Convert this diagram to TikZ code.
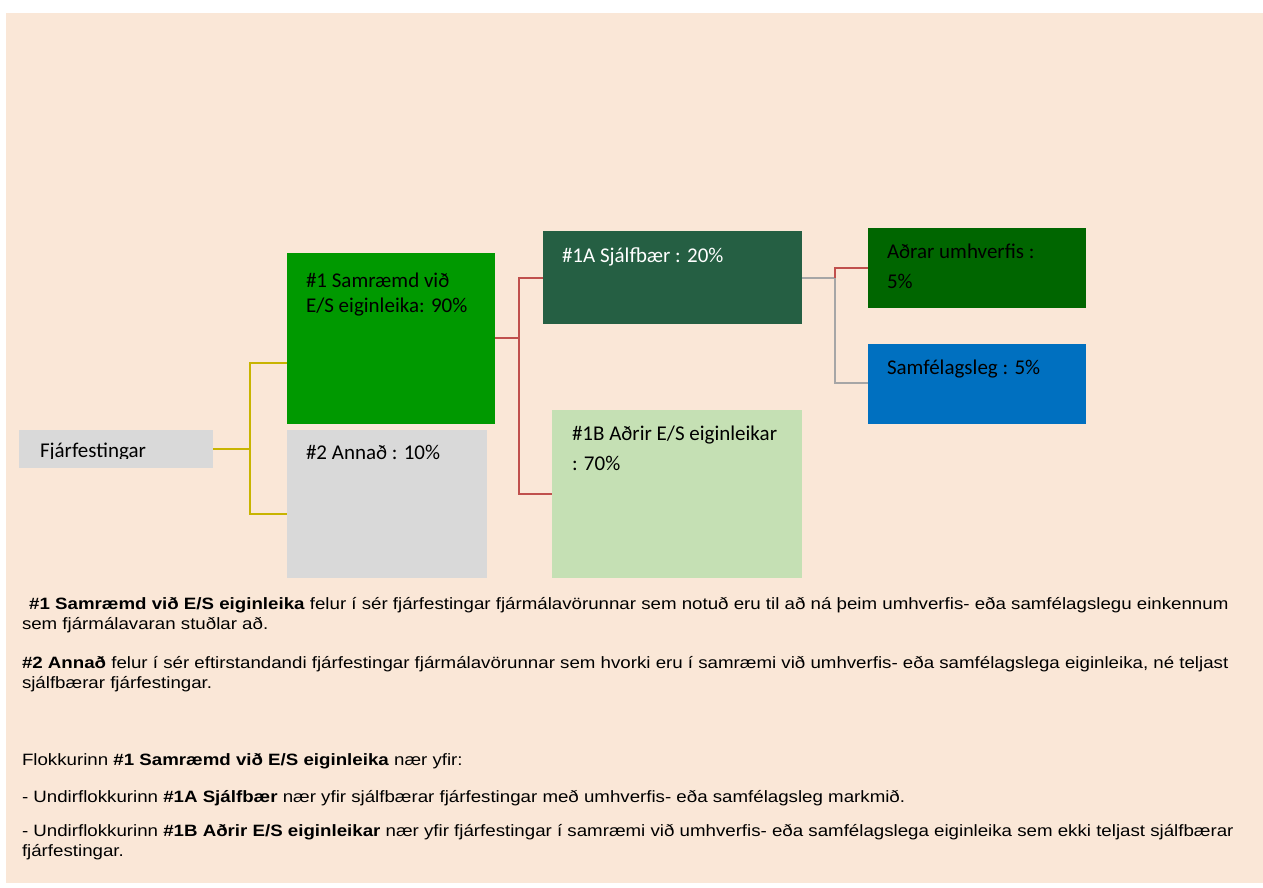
\documentclass[tikz,border=0pt]{standalone}
\usepackage{fontspec}
\setmainfont{Liberation Sans}[FakeStretch=1.14]
\newfontfamily\boxfont{Carlito}
\definecolor{bgc}{HTML}{FAE7D7}
\definecolor{grayc}{HTML}{D9D9D9}
\definecolor{gA}{HTML}{009900}
\definecolor{gB}{HTML}{255F43}
\definecolor{gC}{HTML}{C5E0B4}
\definecolor{gD}{HTML}{006600}
\definecolor{blueE}{HTML}{0070C0}
\definecolor{yelL}{HTML}{C8B400}
\definecolor{redL}{HTML}{C0504D}
\definecolor{grayL}{HTML}{A6A6A6}
\tikzset{
  boxs/.style={inner sep=0pt, outer sep=0pt, draw=none},
  lab/.style={anchor=base west, inner sep=0pt, outer sep=0pt, font=\boxfont\fontsize{21}{25}\selectfont},
  txt/.style={anchor=base west, inner sep=0pt, outer sep=0pt, font=\fontsize{16.4}{20}\selectfont},
  conn/.style={line width=2pt},
}
\begin{document}
\begin{tikzpicture}[x=1pt,y=-1pt]
\useasboundingbox (0,0) rectangle (1263,888);
\fill[white] (0,0) rectangle (1263,888);
\fill[bgc] (6,13) rectangle (1263,883);
% boxes
\node[boxs, fill=grayc, minimum width=194pt, minimum height=38pt, anchor=north west] (fj) at (19,430) {};
\node[boxs, fill=gA, minimum width=208pt, minimum height=171pt, anchor=north west] (s1) at (287,253) {};
\node[boxs, fill=grayc, minimum width=200pt, minimum height=148pt, anchor=north west] (s2) at (287,430) {};
\node[boxs, fill=gB, minimum width=259pt, minimum height=93pt, anchor=north west] (s1a) at (543,231) {};
\node[boxs, fill=gC, minimum width=250pt, minimum height=168pt, anchor=north west] (s1b) at (552,410) {};
\node[boxs, fill=gD, minimum width=218pt, minimum height=80pt, anchor=north west] (ad) at (868,228) {};
\node[boxs, fill=blueE, minimum width=218pt, minimum height=80pt, anchor=north west] (sf) at (868,344) {};
% labels
\begin{scope}
\clip (19,430) rectangle (213,458.5);
\node[lab] (tfj) at (40,457) {Fjárfestingar};
\end{scope}
\node[lab] (t1a) at (306,287) {\#1 Samræmd við};
\node[lab] (t1b) at (306,312) {E/S eiginleika: 90\%};
\node[lab] (t2) at (306,459) {\#2 Annað : 10\%};
\node[lab, text=white] (t1A) at (562,262) {\#1A Sjálfbær : 20\%};
\node[lab] (t1Ba) at (572,440) {\#1B Aðrir E/S eiginleikar};
\node[lab] (t1Bb) at (572,470) {: 70\%};
\node[lab] (tada) at (887,258) {Aðrar umhverfis :};
\node[lab] (tadb) at (887,288) {5\%};
\node[lab] (tsf) at (887,374) {Samfélagsleg : 5\%};
% connectors
\coordinate (y1) at (250,449);
\draw[conn, yelL] (fj.east |- y1) -- (y1) |- (s1.west |- 0,363);
\draw[conn, yelL] (y1) |- (s2.west |- 0,514);
\coordinate (r1) at (518.5,338);
\draw[conn, redL] (s1.east |- r1) -- (r1) |- (s1a.west |- 0,278);
\draw[conn, redL] (r1) |- (s1b.west |- 0,494);
\coordinate (g1) at (835,278);
\draw[conn, grayL] (s1a.east |- g1) -- (g1) |- (sf.west |- 0,383);
\draw[conn, redL] (g1) |- (ad.west |- 0,268);
% bottom text
\node[txt] (p1) at (24,609) {\textbf{ \#1 Samræmd við E/S eiginleika} felur í sér fjárfestingar fjármálavörunnar sem notuð eru til að ná þeim umhverfis- eða samfélagslegu einkennum};
\node[txt] (p1b) at (22,629.5) {sem fjármálavaran stuðlar að.};
\node[txt] (p2) at (22,668) {\textbf{\#2 Annað} felur í sér eftirstandandi fjárfestingar fjármálavörunnar sem hvorki eru í samræmi við umhverfis- eða samfélagslega eiginleika, né teljast};
\node[txt] (p2b) at (22,688.5) {sjálfbærar fjárfestingar.};
\node[txt] (p3) at (22,765) {Flokkurinn \textbf{\#1 Samræmd við E/S eiginleika} nær yfir:};
\node[txt] (p4) at (22,802) {- Undirflokkurinn \textbf{\#1A Sjálfbær} nær yfir sjálfbærar fjárfestingar með umhverfis- eða samfélagsleg markmið.};
\node[txt] (p5) at (22,836) {- Undirflokkurinn \textbf{\#1B Aðrir E/S eiginleikar} nær yfir fjárfestingar í samræmi við umhverfis- eða samfélagslega eiginleika sem ekki teljast sjálfbærar};
\node[txt] (p5b) at (22,856.5) {fjárfestingar.};
\end{tikzpicture}
\end{document}
